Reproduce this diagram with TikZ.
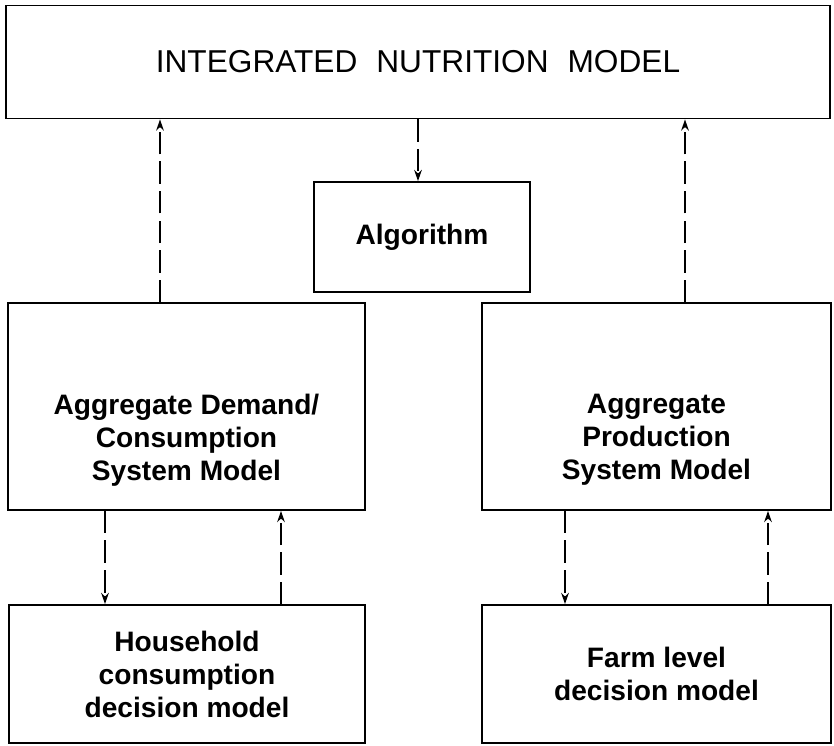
\documentclass[tikz,border=0pt]{standalone}
\usepackage{fontspec}
\setmainfont{Liberation Sans}
\usetikzlibrary{arrows.meta}
\tikzset{
    box/.style={draw, line width=1.3pt, inner sep=0pt},
    boxtext/.style={font=\bfseries\fontsize{20}{23.5}\selectfont, align=center},
    flow/.style={line width=1.1pt, dash pattern=on 16pt off 5pt, -{Stealth[length=8pt,width=5.5pt]}}
}
\begin{document}
\begin{tikzpicture}[x=0.025cm, y=-0.025cm]
    \useasboundingbox (0,0) rectangle (834,745);

    % top model
    \node[box, minimum width=20.6cm, minimum height=2.825cm,
          font=\fontsize{22.5}{26}\selectfont] (inm) at (418,62)
        {INTEGRATED\hspace{0.6em}NUTRITION\hspace{0.6em}MODEL};

    % algorithm
    \node[box, boxtext, minimum width=5.4cm, minimum height=2.75cm] (alg) at (422,237) {Algorithm};

    % aggregate models
    \node[box, minimum width=8.925cm, minimum height=5.175cm,
          label={[boxtext, yshift=-0.84cm]center:Aggregate Demand/\\Consumption\\System Model}] (lmid) at (186.5,406.5) {};
    \node[box, minimum width=8.725cm, minimum height=5.175cm,
          label={[boxtext, yshift=-0.84cm]center:Aggregate\\Production\\System Model}] (rmid) at (656.5,406.5) {};

    % decision models
    \node[box, boxtext, minimum width=8.9cm, minimum height=3.45cm] (lbot) at (187,674) {Household\\consumption\\decision model};
    \node[box, boxtext, minimum width=8.725cm, minimum height=3.45cm] (rbot) at (656.5,674) {Farm level\\decision model};

    % downward flows
    \foreach \from/\to/\xpos in {inm/alg/418, lmid/lbot/105, rmid/rbot/565}
    {
        \coordinate (c) at (\xpos,0);
        \draw[flow] (\from.south -| c) -- (\to.north -| c);
    }

    % upward flows
    \foreach \from/\to/\xpos in {lmid/inm/160, rmid/inm/685, lbot/lmid/281, rbot/rmid/768}
    {
        \coordinate (c) at (\xpos,0);
        \draw[flow] (\from.north -| c) -- (\to.south -| c);
    }
\end{tikzpicture}
\end{document}
